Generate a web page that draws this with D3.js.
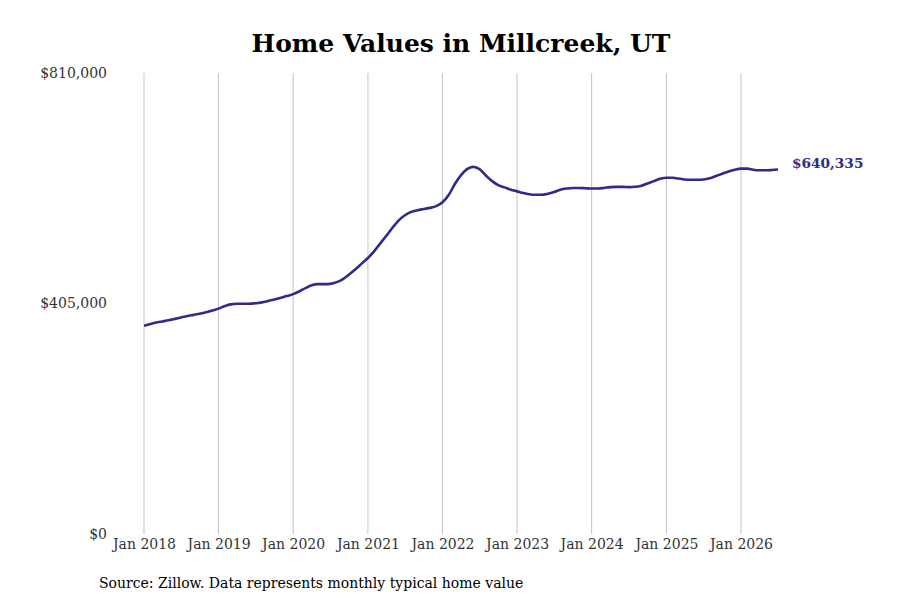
<!DOCTYPE html>
<html>
<head>
<meta charset="utf-8">
<script src="https://cdn.jsdelivr.net/npm/d3@7"></script>
<style>
  body { margin: 0; background: #fff; }
  svg text { font-family: "DejaVu Serif", serif; }
</style>
</head>
<body>
<svg id="chart" width="900" height="600"></svg>
<script>
// monthly typical home value, Jan 2018 .. Jul 2026 (thousands of $)
var startMonth = '2018-01';
var values = [
  366, 369, 371.5, 373.5, 375.5, 378, 380.5, 383, 385, 387, 389.5, 392.5,
  396, 400.5, 403.5, 404.5, 404.5, 404.5, 405.5, 407, 409.5, 412, 415, 418,
  421.5, 426.5, 432, 437, 439, 439, 439.5, 442.5, 448, 456, 465, 475,
  485, 497, 510, 524, 538, 551, 560, 566, 569, 571, 573, 576,
  583, 596, 614, 630, 641, 645, 641, 630, 620, 613, 609, 605,
  602, 599, 597, 596, 596, 598, 601, 605, 607, 608, 608, 607.5,
  607, 607, 608, 609.5, 610, 610, 609.5, 610, 612, 616, 620, 624,
  626, 626, 624.5, 623, 622.5, 622.5, 623, 625, 629, 633, 637, 640,
  642, 642, 640, 639, 639, 639.5, 640.335
];
var yTicks = [0, 405000, 810000];
var xTickYears = [2018, 2019, 2020, 2021, 2022, 2023, 2024, 2025, 2026];
var lastLabel = '$640,335';
var title = 'Home Values in Millcreek, UT';
var source = 'Source: Zillow. Data represents monthly typical home value';

var lineColor = '#2e2b8a';
var parseMonth = d3.timeParse('%Y-%m');
var t0 = parseMonth(startMonth);

var data = values.map(function (v, i) {
    return { date: d3.timeMonth.offset(t0, i), value: v * 1000 };
});

var svg = d3.select('#chart');

var x = d3.scaleTime()
    .domain([new Date(2018, 0, 1), new Date(2026, 0, 1)])
    .range([144, 741]);

var y = d3.scaleLinear()
    .domain([0, 810000])
    .range([534, 73]);

// vertical grid at each January
svg.append('g')
    .selectAll('line')
    .data(xTickYears)
    .enter()
    .append('line')
    .attr('x1', function (d) { return x(new Date(d, 0, 1)); })
    .attr('x2', function (d) { return x(new Date(d, 0, 1)); })
    .attr('y1', y(810000))
    .attr('y2', y(0))
    .attr('stroke', '#c4c4c4')
    .attr('stroke-width', 1);

// x labels
var xAxis = d3.axisBottom(x)
    .tickValues(xTickYears.map(function (d) { return new Date(d, 0, 1); }))
    .tickFormat(d3.timeFormat('Jan %Y'))
    .tickSize(0)
    .tickPadding(5);

var gx = svg.append('g')
    .attr('transform', 'translate(0,' + y(0) + ')')
    .call(xAxis);
gx.select('.domain').remove();
gx.selectAll('text')
    .style('font-family', '"DejaVu Serif", serif')
    .style('font-size', '14px')
    .attr('fill', '#333');

// y labels
var yAxis = d3.axisLeft(y)
    .tickValues(yTicks)
    .tickFormat(function (d) { return '$' + d3.format(',')(d); })
    .tickSize(0)
    .tickPadding(0);

var gy = svg.append('g')
    .attr('transform', 'translate(107,0)')
    .call(yAxis);
gy.select('.domain').remove();
gy.selectAll('text')
    .style('font-family', '"DejaVu Serif", serif')
    .style('font-size', '14px')
    .attr('fill', '#333');

// the line
var line = d3.line()
    .x(function (d) { return x(d.date); })
    .y(function (d) { return y(d.value); })
    .curve(d3.curveMonotoneX);

svg.append('path')
    .datum(data)
    .attr('d', line)
    .attr('fill', 'none')
    .attr('stroke', lineColor)
    .attr('stroke-width', 2.6)
    .attr('stroke-linejoin', 'round');

// end label, sits a little above the last point
var last = data[data.length - 1];
svg.append('text')
    .attr('x', x(last.date) + 14)
    .attr('y', y(last.value) - 6)
    .attr('dy', '0.35em')
    .attr('fill', lineColor)
    .style('font-size', '13.7px')
    .style('font-weight', 'bold')
    .text(lastLabel);

// title
svg.append('text')
    .attr('x', 461)
    .attr('y', 52)
    .attr('text-anchor', 'middle')
    .attr('fill', '#000')
    .style('font-size', '25px')
    .style('font-weight', 'bold')
    .text(title);

// source note
svg.append('text')
    .attr('x', 99)
    .attr('y', 588)
    .attr('fill', '#000')
    .style('font-size', '14px')
    .text(source);
</script>
</body>
</html>
